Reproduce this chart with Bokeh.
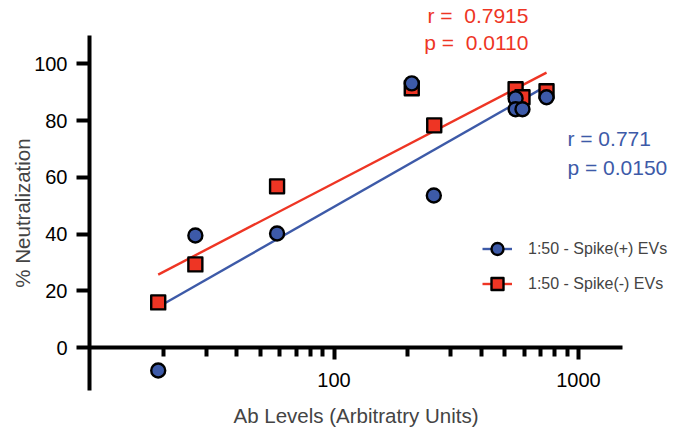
from bokeh.plotting import figure
from bokeh.models import Range1d, FixedTicker, Legend, LegendItem, Label
from bokeh.embed import file_html
from bokeh.resources import INLINE

# ---- data ----
pos_x = [19.1, 27.1, 58.5, 208, 256, 553, 553, 590, 740]
pos_y = [-8.1, 39.5, 40.2, 93.1, 53.6, 87.8, 84.0, 84.0, 88.2]
neg_x = [19.1, 27.1, 58.5, 208, 257, 553, 590, 740]
neg_y = [15.9, 29.3, 56.8, 91.4, 78.3, 91.0, 88.2, 90.3]
pos_fit_x = [19.1, 740]
pos_fit_y = [14.3, 92.2]
neg_fit_x = [19.1, 740]
neg_fit_y = [25.7, 96.9]
y_ticks = [0, 20, 40, 60, 80, 100]
x_ticks = [100, 1000]
x_minor = [20, 30, 40, 50, 60, 70, 80, 90, 200, 300, 400, 500, 600, 700, 800, 900]
pos_label = "1:50 - Spike(+) EVs"
neg_label = "1:50 - Spike(-) EVs"
pos_stats = ["r = 0.771", "p = 0.0150"]
neg_stats = ["r = \u00a00.7915", "p = \u00a00.0110"]

RED = "#EE3524"
BLUE = "#3D5AA8"
FONT = "Liberation Sans"

# the plotting frame covers the whole canvas; the axes are pinned inside it
p = figure(width=684, height=433, x_axis_type="log",
           x_range=Range1d(10 ** 0.636, 10 ** 3.4335),
           y_range=Range1d(-30.3, 122.3),
           output_backend="svg", toolbar_location=None,
           min_border_left=0, min_border_right=0,
           min_border_top=0, min_border_bottom=0)
p.outline_line_color = None
p.grid.visible = False
p.background_fill_color = "white"

# y axis, pinned at x = 10
yax = p.yaxis[0]
yax.fixed_location = 10
yax.bounds = (-15.2, 110)
yax.ticker = FixedTicker(ticks=y_ticks)
yax.axis_line_width = 4
yax.major_tick_line_width = 4
yax.major_tick_out = 13
yax.major_tick_in = 0
yax.minor_tick_line_color = None
yax.major_label_standoff = 9
yax.major_label_text_font = FONT
yax.major_label_text_font_size = "20px"
yax.major_label_text_color = "black"
yax.axis_label = "% Neutralization"
yax.axis_label_text_font = FONT
yax.axis_label_text_font_style = "normal"
yax.axis_label_text_font_size = "20.5px"
yax.axis_label_standoff = -3

# x axis, crossing at y = 0
xax = p.xaxis[0]
xax.fixed_location = 0
xax.bounds = (10, 1514)
xax.ticker = FixedTicker(ticks=x_ticks, minor_ticks=x_minor)
xax.major_label_overrides = {100: "100", 1000: "1000"}
xax.axis_line_width = 4
xax.major_tick_line_width = 4
xax.minor_tick_line_width = 4
xax.major_tick_out = 12
xax.major_tick_in = 0
xax.minor_tick_out = 9
xax.minor_tick_in = 0
xax.major_label_standoff = 13
xax.major_label_text_font = FONT
xax.major_label_text_font_size = "20px"
xax.major_label_text_color = "black"
xax.axis_label = "Ab Levels (Arbitratry Units)"
xax.axis_label_text_font = FONT
xax.axis_label_text_font_style = "normal"
xax.axis_label_text_font_size = "20.5px"
xax.axis_label_standoff = 14

# renderers
bl = p.line(pos_fit_x, pos_fit_y, line_color=BLUE, line_width=2.4)
rl = p.line(neg_fit_x, neg_fit_y, line_color=RED, line_width=2.4)
rs = p.scatter(neg_x, neg_y, marker="square", size=14, fill_color=RED,
               line_color="black", line_width=2.4, line_join="round")
bs = p.scatter(pos_x, pos_y, marker="circle", size=14, fill_color=BLUE,
               line_color="black", line_width=2.4)

legend = Legend(items=[LegendItem(label=pos_label, renderers=[bl, bs]),
                       LegendItem(label=neg_label, renderers=[rl, rs])],
                location=(482, 132), glyph_width=30, glyph_height=35,
                spacing=0, padding=0, margin=0, label_standoff=16,
                label_text_font=FONT, label_text_font_size="16px",
                border_line_color=None, background_fill_alpha=0)
p.add_layout(legend)

for txt, yv in zip(neg_stats, [117.0, 107.5]):
    p.add_layout(Label(x=624, y=yv, text=txt, text_align="right",
                       text_baseline="middle", text_color=RED,
                       text_font=FONT, text_font_size="21px"))
for txt, yv in zip(pos_stats, [73.7, 63.4]):
    p.add_layout(Label(x=901, y=yv, text=txt, text_align="left",
                       text_baseline="middle", text_color=BLUE,
                       text_font=FONT, text_font_size="21px"))

open("out.html", "w").write(file_html(p, INLINE))
